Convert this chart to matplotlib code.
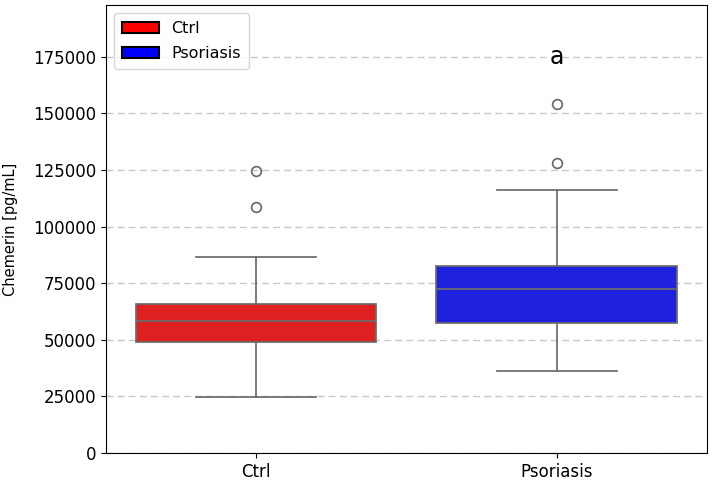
import matplotlib
matplotlib.use("Agg")
import matplotlib.pyplot as plt
from matplotlib.patches import Patch

# Summary statistics (pg/mL)
groups = ["Ctrl", "Psoriasis"]
whisker_low = [24700, 36200]
q1 = [49000, 57400]
median = [58300, 72300]
q3 = [65800, 82600]
whisker_high = [86600, 116200]
outliers = [[108700, 124600], [128200, 154200]]

box_colors = ["#df2020", "#2020df"]
legend_colors = ["red", "blue"]
line_color = "#6b6b6b"

stats = []
for i, name in enumerate(groups):
    stats.append({
        "label": name,
        "whislo": whisker_low[i],
        "q1": q1[i],
        "med": median[i],
        "q3": q3[i],
        "whishi": whisker_high[i],
        "fliers": outliers[i],
    })

fig, ax = plt.subplots(figsize=(7.14, 4.82), dpi=100)
fig.subplots_adjust(left=0.1485, right=0.990, top=0.990, bottom=0.060)

bp = ax.bxp(
    stats,
    positions=range(len(groups)),
    widths=0.8,
    patch_artist=True,
    manage_ticks=False,
    boxprops=dict(edgecolor=line_color, linewidth=1.25),
    medianprops=dict(color=line_color, linewidth=1.25),
    whiskerprops=dict(color=line_color, linewidth=1.25),
    capprops=dict(color=line_color, linewidth=1.25),
    flierprops=dict(marker="o", markerfacecolor="none", markeredgecolor=line_color,
                    markersize=7, markeredgewidth=1.25),
    capwidths=0.4,
    zorder=3,
)
for patch, c in zip(bp["boxes"], box_colors):
    patch.set_facecolor(c)

ax.set_xlim(-0.5, 1.5)
ax.set_ylim(0, 198000)
ax.set_xticks(range(len(groups)))
ax.set_xticklabels(groups)
ax.set_yticks(range(0, 175001, 25000))
ax.tick_params(labelsize=12)
ax.set_ylabel("Chemerin [pg/mL]", fontsize=10.5, labelpad=11)
ax.yaxis.grid(True, linestyle=(0, (5, 3)), color="#c8c8c8", linewidth=1, zorder=0)
ax.set_axisbelow(True)

# significance letter above Psoriasis
ax.text(1, 175000, "a", ha="center", va="center", fontsize=17)

handles = [Patch(facecolor=c, edgecolor="black", linewidth=1.5, label=g)
           for g, c in zip(groups, legend_colors)]
ax.legend(handles=handles, loc="upper left", fontsize=11.5, handlelength=2.3,
          labelspacing=0.65, borderpad=0.5)

fig.savefig("out.png", dpi=100)
